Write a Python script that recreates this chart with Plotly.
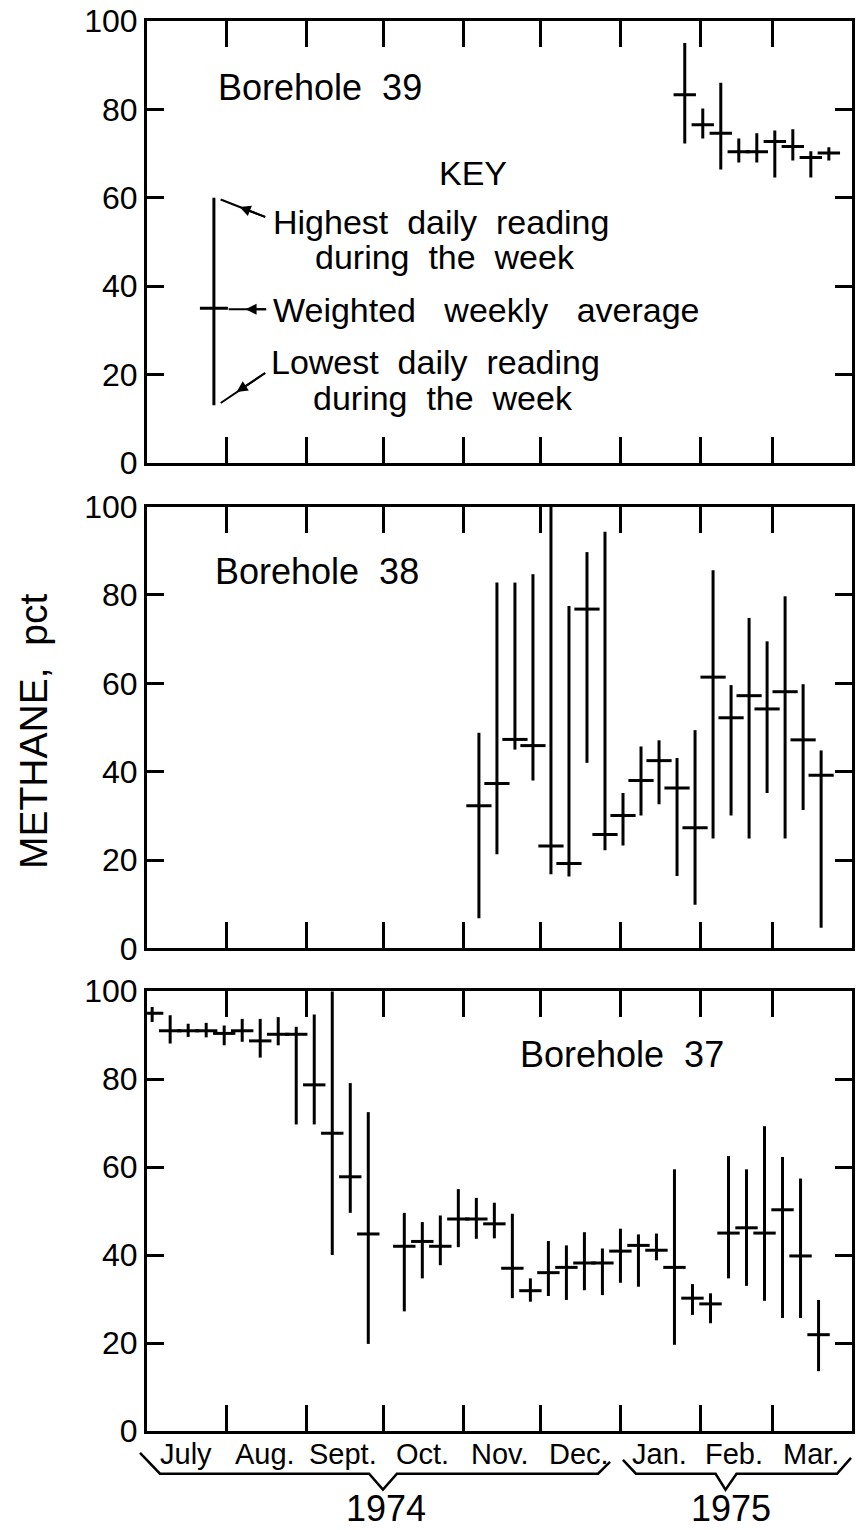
import plotly.graph_objects as go

# ---------------- data ----------------
# Borehole 39
b39_dates = ["1975-01-26", "1975-02-02", "1975-02-09", "1975-02-16", "1975-02-23",
             "1975-03-02", "1975-03-09", "1975-03-16", "1975-03-23"]
b39_avg = [83.3, 76.5, 74.6, 70.4, 70.4, 72.7, 71.6, 69.1, 70.1]
b39_hi = [95.0, 80.2, 86.0, 73.4, 74.6, 75.2, 75.5, 70.5, 71.4]
b39_lo = [72.3, 73.4, 66.4, 68.0, 68.0, 64.6, 68.4, 64.6, 68.4]

# Borehole 38
b38_dates = ["1974-11-07", "1974-11-14", "1974-11-21", "1974-11-28", "1974-12-05",
             "1974-12-12", "1974-12-19", "1974-12-26", "1975-01-02", "1975-01-09",
             "1975-01-16", "1975-01-23", "1975-01-30", "1975-02-06", "1975-02-13",
             "1975-02-20", "1975-02-27", "1975-03-06", "1975-03-13", "1975-03-20"]
b38_avg = [32.3, 37.3, 47.3, 45.9, 23.2, 19.2, 76.8, 25.8, 30.1, 38.0,
           42.5, 36.3, 27.3, 61.4, 52.2, 57.2, 54.2, 58.1, 47.2, 39.2]
b38_hi = [48.8, 82.8, 82.8, 84.7, 100.0, 77.5, 89.7, 94.3, 35.2, 45.7,
          47.1, 43.1, 49.4, 85.6, 59.6, 74.8, 69.5, 79.7, 59.8, 44.8]
b38_lo = [6.8, 21.3, 45.0, 38.0, 16.8, 16.3, 42.0, 22.2, 23.3, 30.1,
          32.6, 16.4, 9.9, 24.9, 30.1, 24.9, 35.2, 24.9, 31.3, 4.7]

# Borehole 37
b37_dates = ["1974-07-03", "1974-07-10", "1974-07-17", "1974-07-24", "1974-07-31",
             "1974-08-07", "1974-08-14", "1974-08-21", "1974-08-28", "1974-09-04",
             "1974-09-11", "1974-09-18", "1974-09-25",
             "1974-10-09", "1974-10-16", "1974-10-23", "1974-10-30", "1974-11-06",
             "1974-11-13", "1974-11-20", "1974-11-27", "1974-12-04", "1974-12-11",
             "1974-12-18", "1974-12-25", "1975-01-01", "1975-01-08", "1975-01-15",
             "1975-01-22", "1975-01-29", "1975-02-05", "1975-02-12", "1975-02-19",
             "1975-02-26", "1975-03-05", "1975-03-12", "1975-03-19"]
b37_avg = [95.0, 91.0, 91.0, 91.0, 90.4, 91.0, 88.7, 90.2, 90.2, 78.7, 67.7, 57.8, 44.8,
           42.0, 43.1, 42.0, 48.2, 48.2, 47.1, 37.0, 31.9, 36.0, 37.2, 38.2, 38.2,
           40.9, 42.2, 41.1, 37.2, 30.2, 28.9, 45.0, 46.2, 45.0, 50.3, 39.8, 21.9]
b37_hi = [96.4, 94.5, 92.6, 92.8, 92.2, 93.7, 93.7, 94.1, 91.9, 94.7, 100.0, 79.1, 72.5,
          49.6, 47.5, 49.0, 55.0, 53.0, 51.9, 49.4, 34.7, 43.2, 42.2, 45.2, 41.5,
          46.0, 44.7, 44.9, 59.5, 33.4, 31.3, 62.5, 59.5, 69.3, 62.3, 57.4, 29.8]
b37_lo = [93.0, 88.1, 89.6, 89.5, 87.7, 88.5, 84.9, 87.7, 69.7, 69.7, 40.0, 49.6, 19.8,
          27.2, 34.7, 37.7, 41.8, 43.7, 43.8, 30.2, 29.4, 30.7, 29.8, 32.0, 30.9,
          33.7, 32.8, 38.8, 19.6, 26.4, 24.5, 34.7, 33.0, 29.6, 25.7, 25.7, 13.6]

# key example bar
key_date = ["1974-07-27"]
key_avg = [35.0]
key_hi = [60.0]
key_lo = [13.0]

x_range = ["1974-07-01", "1975-04-01"]
month_starts = ["1974-08-01", "1974-09-01", "1974-10-01", "1974-11-01", "1974-12-01",
                "1975-01-01", "1975-02-01", "1975-03-01"]
month_mids = ["1974-07-16", "1974-08-16", "1974-09-15", "1974-10-16", "1974-11-15",
              "1974-12-16", "1975-01-16", "1975-02-14", "1975-03-16"]
month_labels = ["July", "Aug.", "Sept.", "Oct.", "Nov.", "Dec.", "Jan.", "Feb.", "Mar."]
year_labels = ["1974", "1975"]
y_ticks = [0, 20, 40, 60, 80, 100]

# ---------------- figure ----------------
FONT = "Liberation Sans, Arial, sans-serif"
W, H = 858, 1530
M_L, M_R, M_T, M_B = 147, 3, 14, 99
PH = H - M_T - M_B  # plot height in px


def ypaper(py):
    return (H - M_B - py) / PH


def xfrac(px):
    return (px - M_L) / (W - M_L - M_R)


domains = [
    [ypaper(458), ypaper(M_T)],
    [ypaper(946), ypaper(502)],
    [ypaper(H - M_B), ypaper(989)],
]

fig = go.Figure()


def add_series(dates, avg, hi, lo, xa, ya, size=17):
    fig.add_trace(go.Scatter(
        x=dates, y=avg, mode="markers", xaxis=xa, yaxis=ya,
        marker=dict(symbol="line-ew", size=size, color="black",
                    line=dict(width=3, color="black")),
        error_y=dict(type="data", symmetric=False,
                     array=[h - a for h, a in zip(hi, avg)],
                     arrayminus=[a - l for a, l in zip(avg, lo)],
                     width=0, thickness=3, color="black"),
        showlegend=False, hoverinfo="skip",
    ))


add_series(b39_dates, b39_avg, b39_hi, b39_lo, "x", "y", size=16)
add_series(key_date, key_avg, key_hi, key_lo, "x", "y", size=20)
add_series(b38_dates, b38_avg, b38_hi, b38_lo, "x2", "y2", size=18)
add_series(b37_dates, b37_avg, b37_hi, b37_lo, "x3", "y3", size=16)

axis_common = dict(showline=True, linewidth=3, linecolor="black", mirror="ticks",
                   showgrid=False, zeroline=False, ticks="inside", tickcolor="black")

layout = dict(
    width=W, height=H, paper_bgcolor="white", plot_bgcolor="white",
    margin=dict(l=M_L, r=M_R, t=M_T, b=M_B),
    font=dict(family=FONT, color="black"),
    showlegend=False,
)
for i, dom in enumerate(domains):
    s = "" if i == 0 else str(i + 1)
    layout["xaxis" + s] = dict(
        axis_common, type="date", range=x_range, tickvals=month_starts,
        showticklabels=False, ticklen=26, tickwidth=2.5,
        anchor="y" + s, domain=[0, 1],
    )
    layout["yaxis" + s] = dict(
        axis_common, range=[0, 100], tickvals=y_ticks, ticklen=17, tickwidth=2.5,
        tickfont=dict(size=32, family=FONT), anchor="x" + s, domain=dom,
    )
fig.update_layout(**layout)

ann = []


def text(t, xd, y, xref, yref, anchor="left", size=34):
    ann.append(dict(text=t, x=xd, y=y, xref=xref, yref=yref, xanchor=anchor,
                    yanchor="middle", showarrow=False,
                    font=dict(size=size, family=FONT, color="black")))


# panel titles
text("Borehole  39", xfrac(216), 84.9, "x domain", "y", size=36)
text("Borehole  38", xfrac(213), 85.3, "x2 domain", "y2", size=36)
text("Borehole  37", xfrac(520), 85.5, "x3 domain", "y3", size=36)

# key texts
text("KEY", xfrac(474), 65.7, "x domain", "y", anchor="center", size=34)
text("Highest  daily  reading", xfrac(272), 54.4, "x domain", "y", size=34)
text("during  the  week", xfrac(314), 46.6, "x domain", "y", size=34)
text("Weighted   weekly   average", xfrac(272), 34.5, "x domain", "y", size=34)
text("Lowest  daily  reading", xfrac(270), 22.8, "x domain", "y", size=34)
text("during  the  week", xfrac(312), 14.7, "x domain", "y", size=34)


def arrow(tip_px, tail_px, head):
    # tip/tail in pixel coordinates of the top panel (y converted to data units)
    tx, ty = tip_px
    lx, ly = tail_px
    ann.append(dict(x=xfrac(tx), y=(458 - ty) / 4.43, xref="x domain", yref="y",
                    ax=lx - tx, ay=ly - ty, text="", showarrow=True,
                    arrowhead=head, arrowsize=1.1, arrowwidth=2, arrowcolor="black"))


# arrow lines then arrowheads placed part-way along
arrow((221, 194), (267, 212), 0)
arrow((240, 201.5), (267, 212), 2)
arrow((229, 304), (268, 304), 0)
arrow((246, 304), (268, 304), 2)
arrow((221, 398), (267, 367), 0)
arrow((237, 387), (267, 367), 2)

# month labels
for d, lab in zip(month_mids, month_labels):
    ann.append(dict(text=lab, x=d, y=ypaper(1454), xref="x3", yref="paper",
                    xanchor="center", yanchor="middle", showarrow=False,
                    font=dict(size=29, family=FONT, color="black")))
# years
for xp, lab in zip([387, 733], year_labels):
    ann.append(dict(text=lab, x=xfrac(xp), y=ypaper(1509), xref="paper", yref="paper",
                    xanchor="center", yanchor="middle", showarrow=False,
                    font=dict(size=36, family=FONT, color="black")))

# y title
ann.append(dict(text="METHANE,  pct", x=xfrac(33), y=ypaper(728), xref="paper",
                yref="paper", xanchor="center", yanchor="middle", textangle=-90,
                showarrow=False, font=dict(size=39, family=FONT, color="black")))

fig.update_layout(annotations=ann)

# braces under month labels
brace_pts = [
    [(140, 1453), (160, 1474), (370, 1474), (384, 1490), (398, 1474), (600, 1474), (612, 1462)],
    [(625, 1460), (638, 1474), (718, 1474), (728, 1490), (739, 1474), (840, 1474), (854, 1458)],
]
shapes = []
for pts in brace_pts:
    path = "M " + " L ".join(f"{xfrac(px):.4f},{ypaper(py):.4f}" for px, py in pts)
    shapes.append(dict(type="path", path=path, xref="paper", yref="paper",
                       line=dict(color="black", width=2.5)))
fig.update_layout(shapes=shapes)

fig.write_html(
    "out.html",
    config={"displayModeBar": False},
    post_script="document.body.style.margin='0';document.body.style.padding='0';"
                "document.documentElement.style.overflow='hidden';",
)
